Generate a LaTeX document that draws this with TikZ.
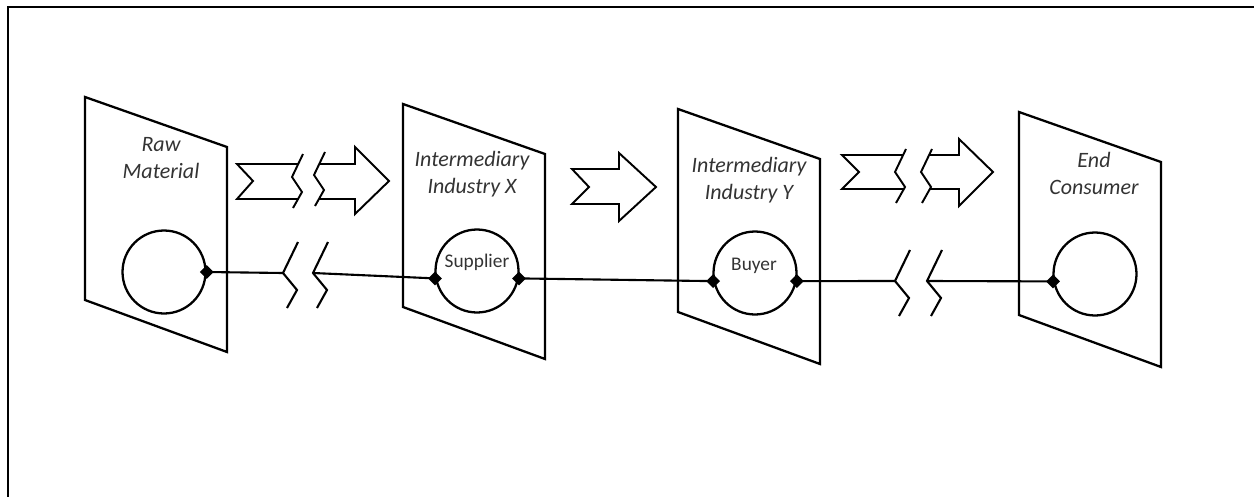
\documentclass[tikz,border=0pt]{standalone}
\usepackage{fontspec}
\setmainfont{Carlito}
\usetikzlibrary{shapes.geometric}

\tikzset{
  panel/.style={line width=1.3pt, line join=miter},
  hub/.style={circle, draw, line width=1.3pt, minimum size=1.66cm, inner sep=0pt},
  joint/.style={diamond, fill, inner sep=0pt, minimum size=8pt},
  wire/.style={line width=1.2pt},
  flow/.style={line width=1.1pt, line join=miter},
  tag/.style={font=\fontsize{12.5}{15.4}\selectfont\itshape, text=black!80, align=center},
  role/.style={font=\fontsize{11}{13}\selectfont, text=black!80},
  linebrk/.pic={\draw[wire] (15,-31) -- (0,0) -- (14,17) -- (4,35);},
  arrbrk/.pic={\draw[flow] (11,-23) -- (0,0) -- (10,15) -- (1,31);},
}

\begin{document}
\begin{tikzpicture}[x=0.02cm, y=-0.02cm]
\useasboundingbox (0,0) rectangle (1254,497);
% frame
\draw[line width=1.4pt] (1254,7) -- (8,7) -- (8,497);
% panels
\foreach \x/\y in {85/97, 403/104, 678/109, 1019/112}
	\draw[panel] (\x,\y) -- ++(142,50) -- ++(0,205) -- ++(-142,-52) -- cycle;
\node[tag] (rawlbl) at (161,158) {Raw\\Material};
\node[tag] (xlbl) at (472,174) {Intermediary\\Industry X};
\node[tag] (ylbl) at (749,180) {Intermediary\\Industry Y};
\node[tag] (endlbl) at (1094,173) {End\\Consumer};
% firms
\node[hub] (c1) at (164,272) {};
\node[hub] (c2) at (477,271) {};
\node[hub] (c3) at (755,273) {};
\node[hub] (c4) at (1095,274) {};
\node[role] (suplbl) at (477,262) {Supplier};
\node[role] (buylbl) at (754,266) {Buyer};
% links with breaks
\coordinate (k1) at (283,273);
\coordinate (k2) at (313,273);
\coordinate (k3) at (895,281);
\coordinate (k4) at (927,281);
\draw[wire] (c1.east) -- (k1);
\draw[wire] (k2) -- (c2.190);
\draw[wire] (c2.-10) -- (c3.191);
\draw[wire] (c3.-11) -- (k3);
\draw[wire] (k4) -- (c4.190);
\foreach \k in {k1,k2,k3,k4}
	\pic at (\k) {linebrk};
\foreach \p [count=\i] in {c1.east, c2.190, c2.-10, c3.191, c3.-11, c4.190}
	\node[joint] (j\i) at (\p) {};
% flow arrows
\draw[flow] (298,164) -- (237,164) -- (253,181) -- (237,199) -- (298,199);
\draw[flow] (319,164) -- (355,164) -- (355,147) -- (389,181) -- (355,214) -- (355,199) -- (319,199);
\pic at (292,177) {arrbrk};
\pic at (314,175) {arrbrk};
\draw[flow] (572,169) -- (619,169) -- (619,153) -- (656,187) -- (619,221) -- (619,204) -- (572,204) -- (589,187) -- cycle;
\draw[flow] (903,155) -- (842,155) -- (859,172) -- (842,189) -- (904,189);
\draw[flow] (929,155) -- (959,155) -- (959,139) -- (993,172) -- (959,206) -- (959,189) -- (930,189);
\pic at (895,172) {arrbrk};
\pic at (921,172) {arrbrk};
\end{tikzpicture}
\end{document}
